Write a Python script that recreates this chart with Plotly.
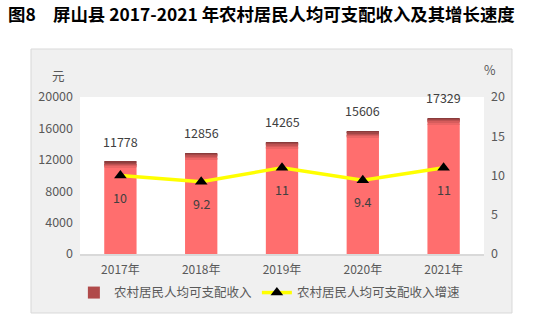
import plotly.graph_objects as go
import numpy as np

years = ["2017年", "2018年", "2019年", "2020年", "2021年"]
income = [11778, 12856, 14265, 15606, 17329]
growth = [10, 9.2, 11, 9.4, 11]
growth_labels = ["10", "9.2", "11", "9.4", "11"]
left_ticks = [0, 4000, 8000, 12000, 16000, 20000]
right_ticks = [0, 5, 10, 15, 20]

FONT = "Noto Sans CJK SC"
TICK_COLOR = "#595959"

# gradient cap styling (top of each bar darker), from top down
cap_colors = ["#8a3b3b", "#a24646", "#bd5151", "#d65c5c", "#eb6666"]
cap_step = 160.0

inc = np.array(income, dtype=float)
n_caps = len(cap_colors)

fig = go.Figure()
fig.add_trace(go.Bar(
    x=years, y=inc - cap_step * n_caps, name="农村居民人均可支配收入",
    marker=dict(color="#ff6e6e", line=dict(width=0)),
    width=0.4, showlegend=False, hoverinfo="skip",
))
for i, c in enumerate(cap_colors):
    fig.add_trace(go.Bar(
        x=years, y=[cap_step] * len(years), base=inc - cap_step * (i + 1),
        marker=dict(color=c, line=dict(width=0)),
        width=0.4, showlegend=False, hoverinfo="skip",
    ))
# legend proxy for bars
fig.add_trace(go.Bar(
    x=[years[0]], y=[None], name="农村居民人均可支配收入",
    marker=dict(color="#b04a4a", line=dict(width=0)),
    showlegend=True,
))
fig.add_trace(go.Scatter(
    x=years, y=growth, yaxis="y2", name="农村居民人均可支配收入增速",
    mode="lines+markers",
    line=dict(color="#ffff00", width=3.5),
    marker=dict(symbol="triangle-up", size=11, color="#000000"),
))

annotations = []
for yr, v in zip(years, income):
    annotations.append(dict(
        x=yr, y=v, xref="x", yref="y", text=str(v), showarrow=False,
        yanchor="bottom", yshift=9, font=dict(size=12.5, color="#404040", family=FONT),
    ))
for yr, g, lab in zip(years, growth, growth_labels):
    annotations.append(dict(
        x=yr, y=g, xref="x", yref="y2", text=lab, showarrow=False,
        yanchor="top", yshift=-10, font=dict(size=12.5, color="#404040", family=FONT),
    ))
annotations.append(dict(x=-0.052, y=1.134, xref="paper", yref="paper", text="元",
                        xanchor="center", yanchor="middle",
                        showarrow=False, font=dict(size=12.5, color=TICK_COLOR, family=FONT)))
annotations.append(dict(x=1.015, y=1.172, xref="paper", yref="paper", text="%",
                        xanchor="center", yanchor="middle",
                        showarrow=False, font=dict(size=12.5, color=TICK_COLOR, family=FONT)))

shapes = [
    dict(type="rect", xref="paper", yref="paper", x0=-0.1213, x1=1.0693, y0=-0.3758, y1=1.3057,
         fillcolor="#f0f0f0", line=dict(color="#d9d9d9", width=1), layer="below"),
    dict(type="rect", xref="paper", yref="paper", x0=0, x1=1, y0=0, y1=1,
         fillcolor="#ffffff", line=dict(width=0), layer="below"),
]

fig.update_layout(
    width=548, height=323,
    margin=dict(l=80, r=64, t=97, b=69),
    paper_bgcolor="#ffffff", plot_bgcolor="rgba(0,0,0,0)",
    barmode="overlay",
    font=dict(family=FONT, size=12, color=TICK_COLOR),
    title=dict(text="<b>图8　屏山县 2017-2021 年农村居民人均可支配收入及其增长速度</b>",
               x=8 / 548, xanchor="left", y=1 - 15 / 323, yanchor="middle",
               font=dict(size=17.4, color="#000000", family=FONT)),
    xaxis=dict(showgrid=False, showline=True, linecolor="#d9d9d9", linewidth=1.5,
               ticks="", tickfont=dict(size=12, color=TICK_COLOR), ticklabelstandoff=4),
    yaxis=dict(range=[0, 20000], tickvals=left_ticks, ticktext=[str(t) for t in left_ticks],
               showgrid=False, zeroline=False,
               showline=False, tickfont=dict(size=12.5, color=TICK_COLOR), ticklabelstandoff=6),
    yaxis2=dict(range=[0, 20], tickvals=right_ticks, ticktext=[str(t) for t in right_ticks],
                overlaying="y", side="right",
                showgrid=False, zeroline=False, showline=False,
                tickfont=dict(size=12.5, color=TICK_COLOR), ticklabelstandoff=6),
    legend=dict(orientation="h", x=0.47, xanchor="center", y=-0.248, yanchor="middle",
                bgcolor="rgba(0,0,0,0)", font=dict(size=12.5, color=TICK_COLOR),
                itemwidth=30, tracegroupgap=0),
    annotations=annotations,
    shapes=shapes,
)

fig.write_html("out.html")
